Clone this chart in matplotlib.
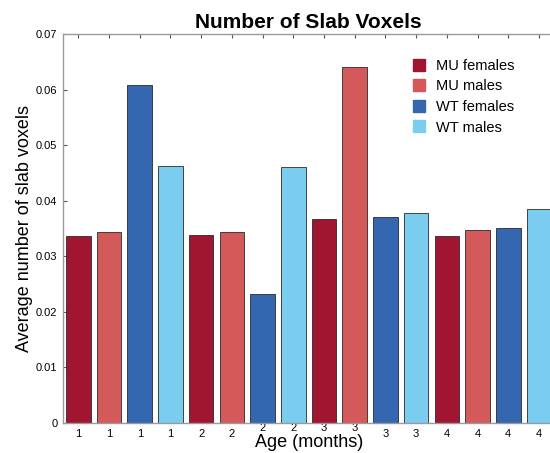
import numpy as np
import matplotlib
matplotlib.use("Agg")
import matplotlib.pyplot as plt
from matplotlib.lines import Line2D
from matplotlib.transforms import ScaledTranslation

plt.rcParams['font.family'] = ['Liberation Sans', 'DejaVu Sans']

# average slab voxels per group, in bar order
groups = ["MU females", "MU males", "WT females", "WT males"]
ages = ["1", "1", "1", "1", "2", "2", "2", "2",
        "3", "3", "3", "3", "4", "4", "4", "4"]
voxels = [0.0337, 0.0344, 0.0608, 0.0463,
          0.0339, 0.0344, 0.0233, 0.0460,
          0.0368, 0.0641, 0.0371, 0.0378,
          0.0337, 0.0347, 0.0351, 0.0385]
cores = ["#A01530", "#D3595B", "#3567B0", "#7BCDF0"]

fig = plt.figure(figsize=(5.5, 4.53), dpi=100)
ax = fig.add_axes([0.1145, 0.0662, 0.8934, 0.8587])

pos = np.arange(1, len(voxels) + 1)
bar_cores = [cores[i % 4] for i in range(len(voxels))]
ax.bar(pos, voxels, width=0.8, color=bar_cores, edgecolor="#2a2a2a", linewidth=0.6, zorder=2)

ax.set_xlim(0.5, 16.5)
ax.set_ylim(0, 0.07)
ax.set_xticks(pos)
ax.set_xticklabels(ages)
ax.set_yticks(np.arange(0, 0.071, 0.01))
ax.set_yticklabels(["0", "0.01", "0.02", "0.03", "0.04", "0.05", "0.06", "0.07"])

for s in ["left", "top", "bottom"]:
    ax.spines[s].set_color("#9a9a9a")
    ax.spines[s].set_linewidth(1.0)
ax.spines["right"].set_visible(False)
ax.tick_params(axis="both", direction="in", length=3, width=0.8, color="#555555",
               labelsize=8, top=True, pad=3)
ax.tick_params(axis="x", pad=4)
ax.tick_params(axis="y", pad=4)

# lift the tick labels sitting right above the axis label
lift = ScaledTranslation(0, 4 / 72, fig.dpi_scale_trans)
for lbl in ax.get_xticklabels()[6:10]:
    lbl.set_transform(lbl.get_transform() + lift)

ax.set_title("Number of Slab Voxels", fontsize=15, fontweight="bold", pad=4)
ax.set_ylabel("Average number of slab voxels", fontsize=13, labelpad=2)
ax.set_xlabel("Age (months)", fontsize=13, labelpad=-3)

handles = [Line2D([0], [0], marker="s", linestyle="none", markersize=8,
                  markerfacecolor=c, markeredgecolor=c) for c in cores]
ax.legend(handles, groups, loc="upper left", bbox_to_anchor=(0.68, 0.97), frameon=False,
          fontsize=10.5, handletextpad=0.6, labelspacing=0.45, handlelength=1.2)

fig.savefig("out.png", dpi=100)
